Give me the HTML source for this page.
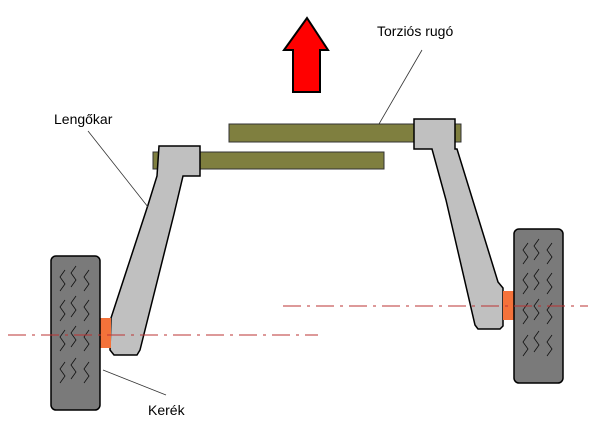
<!DOCTYPE html>
<html><head><style>body{margin:0;background:#fff}svg{display:block}</style></head><body>
<svg width="600" height="426" viewBox="0 0 600 426" xmlns="http://www.w3.org/2000/svg" font-family="Liberation Sans, sans-serif" font-size="14">
<rect width="600" height="426" fill="#fff"/>
<polygon points="307,18 328,50 320,50 320,92 293,92 293,50 284,50" fill="#f00" stroke="#000" stroke-width="2"/>
<rect x="229" y="124" width="232" height="18" fill="#7f7f3f" stroke="#333"/>
<rect x="153" y="152" width="231" height="17" fill="#7f7f3f" stroke="#333"/>
<polygon points="159,146 200,146 200,176 183,176 174,214 140,350 137,355 114,355 110,350 111,318 148,205 157,176" fill="#c0c0c0" stroke="#000" stroke-width="1.5"/>
<polygon points="414,119 455,119 455,149 457,149 498,282 503,288 503,326 500,329 478,329 475,325 446,200 432,149 414,149" fill="#c0c0c0" stroke="#000" stroke-width="1.5"/>
<rect x="100" y="318" width="11" height="30" fill="#f4723a"/>
<rect x="503" y="291" width="11" height="29" fill="#f4723a"/>
<rect x="51" y="256" width="49" height="154" rx="5" fill="#7a7a7a" stroke="#000" stroke-width="1.5"/>
<rect x="514" y="229" width="49" height="154" rx="5" fill="#7a7a7a" stroke="#000" stroke-width="1.5"/>
<g stroke="#111" fill="none" stroke-width="0.8">
<path d="M65,270 l-5,7 l5,7 l-5,7 M76,266 l-5,7 l5,7 l-5,7 M89,270 l-5,7 l5,7 l-5,7 M65,300 l-5,7 l5,7 l-5,7 M76,296 l-5,7 l5,7 l-5,7 M89,300 l-5,7 l5,7 l-5,7 M65,330 l-5,7 l5,7 l-5,7 M76,326 l-5,7 l5,7 l-5,7 M89,330 l-5,7 l5,7 l-5,7 M65,362 l-5,7 l5,7 l-5,7 M76,358 l-5,7 l5,7 l-5,7 M89,362 l-5,7 l5,7 l-5,7"/>
<path d="M528,243 l-5,7 l5,7 l-5,7 M539,239 l-5,7 l5,7 l-5,7 M552,243 l-5,7 l5,7 l-5,7 M528,273 l-5,7 l5,7 l-5,7 M539,269 l-5,7 l5,7 l-5,7 M552,273 l-5,7 l5,7 l-5,7 M528,303 l-5,7 l5,7 l-5,7 M539,299 l-5,7 l5,7 l-5,7 M552,303 l-5,7 l5,7 l-5,7 M528,335 l-5,7 l5,7 l-5,7 M539,331 l-5,7 l5,7 l-5,7 M552,335 l-5,7 l5,7 l-5,7"/>
</g>
<line x1="8" y1="335" x2="318" y2="335" stroke="#b33" stroke-width="1" stroke-dasharray="18,6,3,6"/>
<line x1="283" y1="306" x2="588" y2="306" stroke="#b33" stroke-width="1" stroke-dasharray="18,6,3,6"/>
<g stroke="#333" stroke-width="0.8">
<line x1="422" y1="50" x2="379" y2="124"/>
<line x1="88" y1="131" x2="148" y2="207"/>
<line x1="103" y1="370" x2="166" y2="395"/>
</g>
<text x="377" y="36">Torziós rugó</text>
<text x="54" y="124">Lengőkar</text>
<text x="148" y="415">Kerék</text>
</svg>
</body></html>
